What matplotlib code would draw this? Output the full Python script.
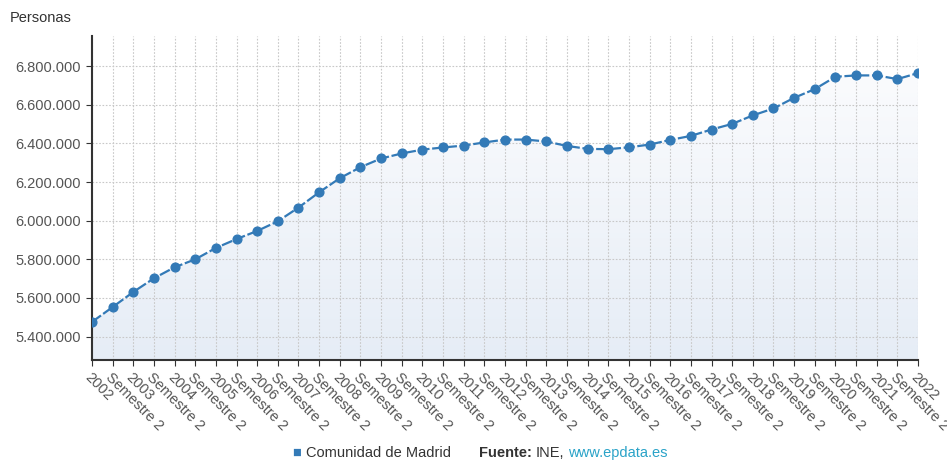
import matplotlib
matplotlib.use('Agg')
import matplotlib.pyplot as plt
import numpy as np
from matplotlib.colors import LinearSegmentedColormap
from matplotlib.ticker import FuncFormatter

plt.rcParams['font.family'] = ['Liberation Sans', 'DejaVu Sans']

# Poblacion de la Comunidad de Madrid por semestre
periodos = []
for anio in range(2002, 2023):
    periodos.append(str(anio))
    if anio < 2022:
        periodos.append('Semestre 2')

poblacion = [
    5476000, 5553000, 5631000, 5702000, 5759000, 5800000, 5859000, 5905000,
    5947000, 5997000, 6068000, 6147000, 6220000, 6277000, 6322000, 6348000,
    6368000, 6379000, 6389000, 6405000, 6420000, 6420000, 6410000, 6387000,
    6372000, 6370000, 6380000, 6394000, 6418000, 6439000, 6472000, 6501000,
    6545000, 6581000, 6636000, 6681000, 6745000, 6752000, 6752000, 6733000,
    6764000,
]

y_ticks = [5400000, 5600000, 5800000, 6000000, 6200000, 6400000, 6600000, 6800000]
y_min, y_max = 5279000, 6955000

azul = '#337ab7'
gris_texto = '#555555'


def miles(v, pos):
    return '{:,.0f}'.format(v).replace(',', '.')


def main():
    fig = plt.figure(figsize=(9.47, 4.70), dpi=100)
    ax = fig.add_axes([0.0971, 0.234, 0.8723, 0.689])

    x = np.arange(len(poblacion))

    # relleno en degradado bajo la serie
    poly = ax.fill_between(x, poblacion, y_min, facecolor='none', edgecolor='none')
    cmap = LinearSegmentedColormap.from_list('relleno', ['#e6edf6', '#fdfdfe'])
    grad = np.linspace(0, 1, 256).reshape(-1, 1)
    img = ax.imshow(grad, cmap=cmap, origin='lower', aspect='auto',
                    extent=[x[0], x[-1], y_min, y_max], zorder=0)
    img.set_clip_path(poly.get_paths()[0], transform=ax.transData)

    ax.plot(x, poblacion, color=azul, lw=1.6, dashes=[5, 1.2],
            marker='o', markersize=6.3, markeredgecolor=azul, zorder=3)

    ax.set_xlim(x[0], x[-1])
    ax.set_ylim(y_min, y_max)
    ax.set_xticks(x)
    ax.set_xticklabels(periodos, rotation=-45, ha='left', va='top',
                       rotation_mode='anchor', fontsize=10.5, color=gris_texto)
    ax.set_yticks(y_ticks)
    ax.yaxis.set_major_formatter(FuncFormatter(miles))
    ax.tick_params(axis='y', labelsize=10.5, labelcolor=gris_texto, length=4,
                   color='#333333', pad=4)
    ax.tick_params(axis='x', length=4, color='#333333', pad=3)

    ax.set_axisbelow('line')
    ax.grid(True, color='#c8c8c8', linestyle=(0, (1.5, 1.5)), linewidth=0.8)

    for lado in ['top', 'right']:
        ax.spines[lado].set_visible(False)
    for lado in ['left', 'bottom']:
        ax.spines[lado].set_color('#333333')
        ax.spines[lado].set_linewidth(1.5)

    fig.text(0.0106, 0.962, 'Personas', fontsize=10.5, color='#333333',
             ha='left', va='center')

    # leyenda y fuente, colocadas una tras otra
    fig.canvas.draw()
    renderer = fig.canvas.get_renderer()
    piezas = [
        ('\u25a0', azul, 'normal', 5),
        ('Comunidad de Madrid', '#333333', 'normal', 28),
        ('Fuente:', '#333333', 'bold', 4),
        ('INE,', '#333333', 'normal', 4),
        ('www.epdata.es', '#2aa3c8', 'normal', 0),
    ]
    px = 292
    for texto, color, peso, hueco in piezas:
        t = fig.text(px / 947, 0.021, texto, fontsize=10.5, color=color,
                     fontweight=peso, ha='left', va='bottom')
        ancho = t.get_window_extent(renderer).width
        px += ancho + hueco

    fig.savefig('out.png', dpi=100)


if __name__ == '__main__':
    main()
